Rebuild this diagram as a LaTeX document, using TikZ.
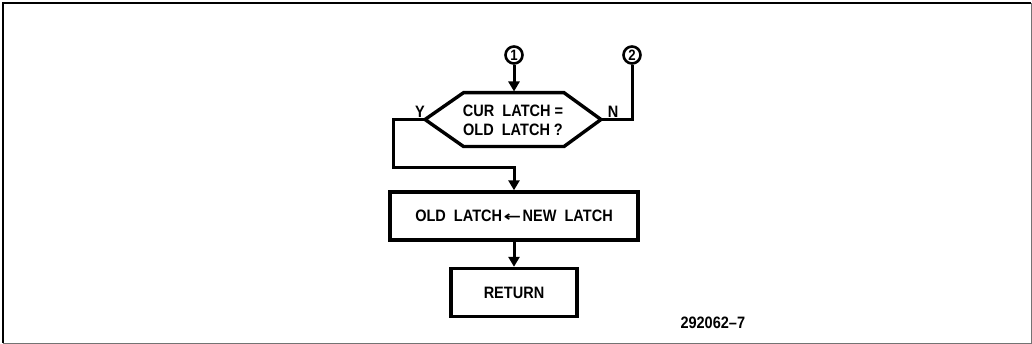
\documentclass[tikz,border=0pt]{standalone}
\usepackage{fontspec}
\setmainfont[FakeStretch=0.88,WordSpace=2]{Liberation Sans}
\newfontfamily\arrfont{DejaVu Sans}
\usetikzlibrary{arrows.meta,calc}
\begin{document}
\begin{tikzpicture}[x=1pt,y=-1pt,
  line width=3pt,
  txt/.style={font=\fontsize{16.5}{18.5}\selectfont\bfseries},
  box/.style={draw, line width=3.4pt, minimum height=48pt, inner sep=0pt, txt},
  conn/.style={draw, circle, line width=2.6pt, minimum size=17pt, inner sep=0pt, font=\fontsize{15}{15}\selectfont\bfseries},
  arr/.style={-{Triangle[width=11pt,length=10pt]}},
  lbl/.style={txt, inner sep=0pt}]
\useasboundingbox (0,0) rectangle (1032,344);
% frame
\draw[line width=2.5pt] (3,343) -- (3,3) -- (1031,3);
\draw[line width=1pt, black!55] (1031,3) -- (1031,343) -- (3,343);
% connectors (circles)
\node[conn] (c1) at (514,55) {1};
\node[conn] (c2) at (632,55) {2};
% decision hexagon
\node[txt, align=center, inner sep=0pt] (dec) at (513,120.5) {CUR LATCH\hspace{4pt}=\\OLD LATCH\hspace{4pt}?};
\coordinate (hL) at (425,119.5);
\coordinate (hR) at (601,119.5);
\coordinate (hT) at (514,91.5);
\draw[line width=3.4pt, line join=miter] (hL) -- (463.5,92.7) -- (564,92.7) -- (hR) -- (564,146.5) -- (463.5,146.5) -- cycle;
\node[lbl] (ylab) at (420,111.5) {Y};
\node[lbl] (nlab) at (613,111.5) {N};
% boxes
\node[box, minimum width=248pt] (b1) at (514,216) {OLD LATCH\hspace{1.5pt}{\arrfont\fontsize{14}{14}\selectfont\scalebox{1.5}[1]{←}}\hspace{1.5pt}NEW LATCH};
\node[box, minimum width=126pt] (b2) at (514,292.5) {RETURN};
\coordinate (yc) at (393,168);
% lines
\draw[arr] (c1) -- (hT);
\draw (hR) -| (c2);
\draw[arr] (hL) -| (yc) -| (b1.north);
\draw[arr] (b1.south) -- (b2.north);
% figure number
\node[lbl, anchor=west] (fig) at (679,323) {292062–7};
\end{tikzpicture}
\end{document}
